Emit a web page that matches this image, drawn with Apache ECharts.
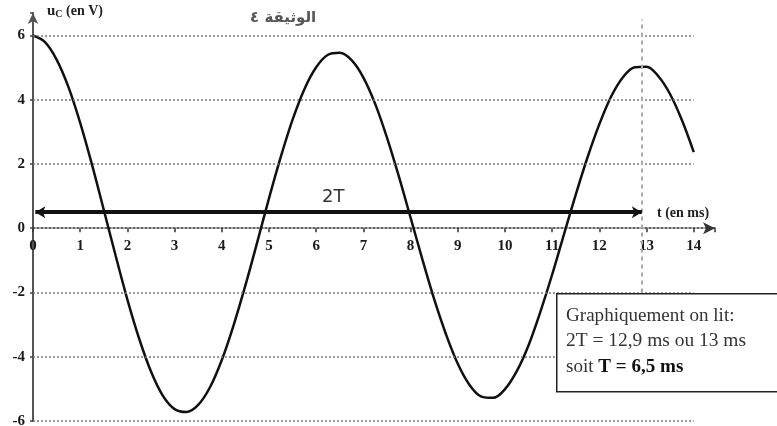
<!DOCTYPE html>
<html>
<head>
<meta charset="utf-8">
<script src="https://cdn.jsdelivr.net/npm/echarts@6/dist/echarts.min.js"></script>
<style>
  html, body { margin: 0; padding: 0; background: #fff; }
  #chart { width: 777px; height: 426px; }
</style>
</head>
<body>
<div id="chart"></div>
<script>
// Capacitor voltage u_C (V) against time t (ms), damped oscillation
const timeMs = [0, 0.25, 0.5, 0.75, 1, 1.25, 1.5, 1.75, 2, 2.25, 2.5, 2.75, 3, 3.25, 3.5, 3.75,
  4, 4.25, 4.5, 4.75, 5, 5.25, 5.5, 5.75, 6, 6.25, 6.5, 6.75, 7, 7.25, 7.5, 7.75,
  8, 8.25, 8.5, 8.75, 9, 9.25, 9.5, 9.75, 10, 10.25, 10.5, 10.75, 11, 11.25, 11.5, 11.75,
  12, 12.25, 12.5, 12.75, 13, 13.25, 13.5, 13.75, 14];
const ucVolts = [6.00, 5.80, 5.25, 4.40, 3.28, 1.98, 0.57, -0.85, -2.22, -3.44, -4.46, -5.21, -5.63, -5.72, -5.50, -4.95,
  -4.10, -3.02, -1.78, -0.44, 0.93, 2.22, 3.38, 4.33, 5.01, 5.40, 5.46, 5.23, 4.69, 3.87, 2.82, 1.62,
  0.33, -0.97, -2.21, -3.30, -4.22, -4.88, -5.24, -5.28, -5.01, -4.45, -3.64, -2.60, -1.44, -0.19, 1.05, 2.21,
  3.24, 4.10, 4.70, 5.01, 5.03, 4.73, 4.17, 3.36, 2.37];

// Axis ticks
const xTicks = [0, 1, 2, 3, 4, 5, 6, 7, 8, 9, 10, 11, 12, 13, 14];
const yTicks = [-6, -4, -2, 0, 2, 4, 6];
const gridLevels = [-6, -4, -2, 2, 4, 6];

// Reading of the double period
const twoT = 12.9;
const arrowLevel = 0.5;

const serif = '"Liberation Serif", "Times New Roman", serif';
const points = timeMs.map((t, i) => [t, ucVolts[i]]);

const markLines = gridLevels.map(v => [
  { coord: [0, v], symbol: 'none', lineStyle: { type: [2, 2], color: '#777', width: 1.5 } },
  { coord: [xTicks[xTicks.length - 1], v], symbol: 'none' }
]);
// vertical dashed marker at 2T
markLines.push([
  { coord: [twoT, -2.5], symbol: 'none', lineStyle: { type: [4, 4], color: '#aaa', width: 2 } },
  { coord: [twoT, 6.5], symbol: 'none' }
]);
// double-headed arrow spanning 2T
markLines.push([
  { coord: [0.05, arrowLevel], symbol: 'arrow', symbolSize: [9, 10], lineStyle: { type: 'solid', color: '#111', width: 4 } },
  { coord: [twoT, arrowLevel], symbol: 'arrow', symbolSize: [9, 10] }
]);

const boxText = 18;

const chart = echarts.init(document.getElementById('chart'), null, { renderer: 'canvas' });
chart.setOption({
  animation: false,
  backgroundColor: '#fff',
  grid: { left: 33, right: 62, top: 13, bottom: 5, containLabel: false, outerBoundsMode: 'none' },
  xAxis: {
    type: 'value', min: 0, max: 14.45, interval: 1,
    position: 'bottom',
    axisLine: { show: true, onZero: false, symbol: ['none', 'arrow'], symbolSize: [9, 12],
      lineStyle: { color: '#333', width: 1.5, type: [2, 2] } },
    axisTick: { show: true, length: 4, lineStyle: { color: '#333', width: 1.5 } },
    axisLabel: {
      margin: 10, color: '#1a1a1a', fontFamily: serif, fontSize: 15, fontWeight: 'bold',
      formatter: v => (xTicks.indexOf(v) >= 0 ? String(v) : '')
    },
    splitLine: { show: false }
  },
  yAxis: {
    type: 'value', min: -6, max: 6.7, interval: 2,
    axisLine: { show: true, onZero: false, symbol: ['none', 'arrow'], symbolSize: [8, 11],
      lineStyle: { color: '#555', width: 2 } },
    axisTick: { show: true, length: 3, lineStyle: { color: '#444', width: 1.5 } },
    axisLabel: {
      margin: 8, color: '#1a1a1a', fontFamily: serif, fontSize: 15, fontWeight: 'bold',
      formatter: v => (yTicks.indexOf(v) >= 0 ? String(v) : '')
    },
    splitLine: { show: false }
  },
  series: [{
    type: 'line',
    data: points,
    smooth: 0.35,
    showSymbol: false,
    clip: false,
    z: 3,
    lineStyle: { color: '#111', width: 2.5 },
    markLine: {
      silent: true,
      symbol: 'none',
      label: { show: false },
      emphasis: { disabled: true },
      data: markLines
    }
  }],
  graphic: [
    {
      type: 'text', left: 47, top: 4, z: 10,
      style: {
        text: '{u|u}{s|C}{n| (en V)}',
        rich: {
          u: { fontFamily: serif, fontSize: 15, fontWeight: 'bold', fill: '#222' },
          s: { fontFamily: serif, fontSize: 10, fontWeight: 'bold', fill: '#222', padding: [6, 0, 0, 0] },
          n: { fontFamily: serif, fontSize: 14, fontWeight: 'bold', fill: '#222' }
        }
      }
    },
    {
      type: 'text', left: 250, top: 11, z: 10,
      style: { text: 'الوثيقة ٤', fontFamily: '"DejaVu Sans", sans-serif', fontSize: 15, fontWeight: 'bold', fill: '#555' }
    },
    {
      type: 'text', left: 657, top: 206, z: 10,
      style: { text: 't (en ms)', fontFamily: serif, fontSize: 14, fontWeight: 'bold', fill: '#222' }
    },
    {
      type: 'text', left: 322, top: 188, z: 10,
      style: { text: '2T', fontFamily: '"DejaVu Sans", sans-serif', fontSize: 18, fill: '#333' }
    },
    { type: 'rect', left: 556, top: 293, z: 50, shape: { width: 232, height: 98 },
      style: { fill: '#fff', stroke: '#222', lineWidth: 1.5 } },
    { type: 'text', left: 566, top: 307, z: 51, scaleX: 1.06,
      style: { text: 'Graphiquement on lit:', fontFamily: serif, fontSize: boxText, fill: '#333' } },
    { type: 'text', left: 566, top: 332, z: 51, scaleX: 1.08,
      style: { text: '2T = 12,9 ms ou 13 ms', fontFamily: serif, fontSize: boxText, fill: '#333' } },
    { type: 'text', left: 566, top: 358, z: 51, scaleX: 1.06,
      style: {
        text: '{r|soit }{b|T = 6,5 ms}',
        rich: {
          r: { fontFamily: serif, fontSize: boxText, fill: '#333' },
          b: { fontFamily: serif, fontSize: boxText, fontWeight: 'bold', fill: '#111' }
        }
      }
    }
  ]
});

// Place the time axis (line, ticks and labels) on the u_C = 0 level
const zeroY = chart.convertToPixel({ gridIndex: 0 }, [0, 0])[1];
const floorY = chart.convertToPixel({ gridIndex: 0 }, [0, -6])[1];
chart.setOption({ xAxis: { offset: -(floorY - zeroY) } });
</script>
</body>
</html>
